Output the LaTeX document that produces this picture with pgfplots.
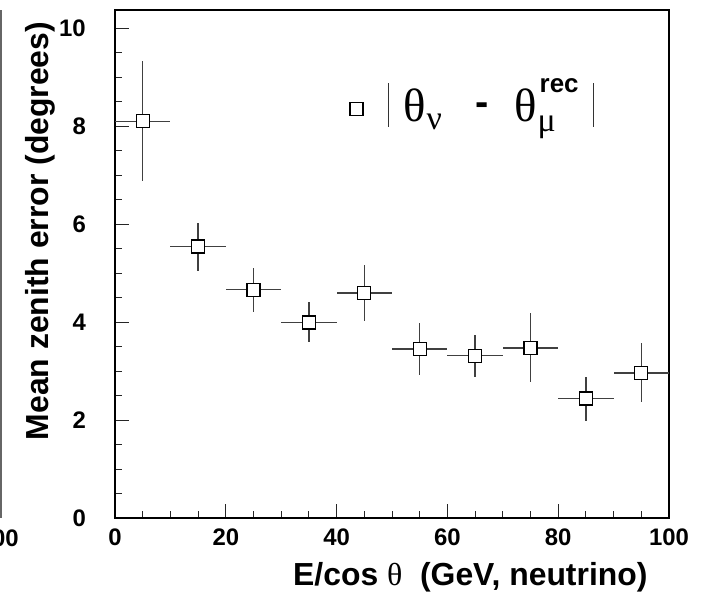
\documentclass[border=0pt]{standalone}
\usepackage{pgfplots}
\pgfplotsset{compat=1.18}
\usepackage{fontspec}
\setmainfont{Liberation Sans}
\newfontfamily\serif{Liberation Serif}
\newcommand\legtext{\raisebox{0pt}[50bp][8bp]{\makebox[207bp][l]{\mdseries%
\rlap{\color{black!80}\rule[-5bp]{1.4bp}{44bp}}%
\rlap{\hspace{16bp}\fontsize{47}{47}\selectfont\serif θ}%
\rlap{\hspace{39bp}\raisebox{-8bp}{\fontsize{34}{34}\selectfont\serif ν}}%
\rlap{\hspace{88bp}\raisebox{6.5bp}{\fontsize{40}{40}\selectfont\bfseries -}}%
\rlap{\hspace{127bp}\fontsize{47}{47}\selectfont\serif θ}%
\rlap{\hspace{150bp}\raisebox{-10bp}{\fontsize{34}{34}\selectfont\serif μ}}%
\rlap{\hspace{152bp}\raisebox{29bp}{\fontsize{26}{26}\selectfont\bfseries rec}}%
\rlap{\hspace{205bp}\color{black!80}\rule[-5bp]{1.4bp}{44bp}}%
}}}
\pgfplotstableread{
x y eyp eym ex
5 8.10 1.23 1.22 5
15 5.54 0.49 0.49 5
25 4.66 0.44 0.45 5
35 3.99 0.41 0.39 5
45 4.59 0.57 0.57 5
55 3.45 0.54 0.54 5
65 3.31 0.43 0.43 5
75 3.47 0.71 0.70 5
85 2.44 0.44 0.46 5
95 2.96 0.61 0.60 5
}\datatable
\begin{document}
\begin{tikzpicture}
\begin{axis}[
  at={(115bp,77bp)}, anchor=south west,
  scale only axis, width=554bp, height=508bp,
  xmin=0, xmax=100, ymin=0, ymax=10.37,
  axis line style={line width=1.3bp, black},
  xtick={0,20,40,60,80,100}, ytick={0,2,4,6,8,10},
  minor x tick num=3, minor y tick num=3,
  tick pos=left, tick align=inside,
  major tick length=14bp, minor tick length=7bp,
  tick style={line width=1bp, black!85},
  /pgf/number format/assume math mode=true,
  ticklabel style={font=\fontsize{24}{24}\selectfont\bfseries, inner sep=0pt},
  xticklabel style={yshift=-11bp},
  yticklabel style={xshift=-29bp},
  xlabel={E/cos {\mdseries\serif θ}\ \ (GeV, neutrino)},
  xlabel style={at={(axis description cs:0.3213,-0.1319)}, anchor=base west, font=\fontsize{32}{32}\selectfont\bfseries, inner sep=0pt},
  ylabel={Mean zenith error (degrees)},
  ylabel style={at={(axis description cs:-0.1209,0.565)}, anchor=base, font=\fontsize{32}{32}\selectfont\bfseries, inner sep=0pt},
  legend style={draw=none, fill=none, inner sep=0pt, outer sep=0pt, column sep=24bp,
    at={(axis description cs:0.4231,0.878)}, anchor=north west,
    nodes={inner sep=0pt, anchor=base west}},
  legend cell align=left,
]
\addplot[black, only marks, mark=square*, mark size=6.5bp,
  mark options={fill=white, line width=1.3bp, draw=black},
  legend image code/.code={\draw[black, line width=1.3bp, fill=white] (-6.5bp,6.5bp) rectangle (6.5bp,19.5bp);},
  error bars/.cd, x dir=both, x explicit, y dir=both, y explicit,
  error mark=none, error bar style={line width=1.3bp, black!75}]
  table[x=x, y=y, x error=ex, y error plus=eyp, y error minus=eym] {\datatable};
\addlegendentry{\legtext}
\end{axis}
\draw[black!60, line width=1.3bp] (1bp,77bp) -- (1bp,585bp);
\node[anchor=north east, inner sep=0pt, font=\fontsize{24}{24}\selectfont\bfseries] at (19bp,65bp) {100};
\pgfresetboundingbox
\path[use as bounding box] (0,0) rectangle (706bp,595bp);
\end{tikzpicture}
\end{document}
